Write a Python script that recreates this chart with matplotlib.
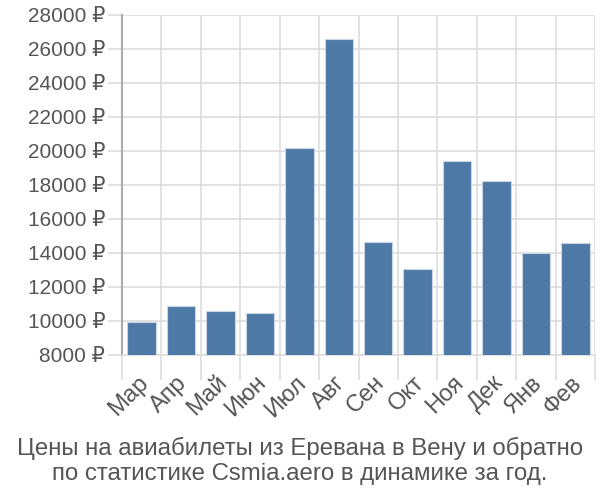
import numpy as np
import matplotlib.pyplot as plt

plt.rcParams['font.family'] = ['Liberation Sans', 'DejaVu Sans']

months = ['Мар', 'Апр', 'Май', 'Июн', 'Июл', 'Авг', 'Сен', 'Окт', 'Ноя', 'Дек', 'Янв', 'Фев']
prices = [9920, 10860, 10570, 10490, 20150, 26600, 14650, 13080, 19410, 18250, 13980, 14610]
yticks = list(range(8000, 28001, 2000))
title = 'Цены на авиабилеты из Еревана в Вену и обратно\nпо статистике Csmia.aero в динамике за год.'

fig = plt.figure(figsize=(6, 5), dpi=100)
ax = fig.add_axes([0.203, 0.29, 0.789, 0.68])

x = np.arange(len(months))
ax.bar(x, prices, width=0.72, color='#4e79a7', edgecolor='#c9d6e6', linewidth=0.8, zorder=3)

ax.set_xlim(-0.5, len(months) - 0.5)
ax.set_ylim(8000, 28000)
ax.set_yticks(yticks)
ax.set_yticklabels([f'{v} ₽' for v in yticks])
ax.set_xticks(x - 0.12)
ax.set_xticklabels(months, rotation=45, ha='right', rotation_mode='anchor')
ax.set_xticks(np.arange(-0.5, len(months)), minor=True)

ax.grid(True, which='major', axis='y', color='#dddddd', linewidth=1.2, zorder=0)
ax.grid(True, which='minor', axis='x', color='#dddddd', linewidth=1.2, zorder=0)

for s in ['top', 'right']:
    ax.spines[s].set_visible(False)
ax.spines['left'].set_color('#aaaaaa')
ax.spines['left'].set_linewidth(1.5)
ax.spines['bottom'].set_color('#dddddd')
ax.spines['bottom'].set_linewidth(1.2)

ax.tick_params(axis='y', which='major', length=10, color='#dddddd', width=1.2,
               labelsize=15, labelcolor='#555555', pad=2)
ax.tick_params(axis='x', which='major', length=0, labelsize=17, labelcolor='#555555', pad=12)
ax.tick_params(axis='x', which='minor', length=18, color='#dddddd', width=1.2)

fig.text(0.5, 0.078, title, ha='center', va='center', fontsize=17.3,
         color='#555555', linespacing=1.15)

fig.savefig('out.png', dpi=100)
